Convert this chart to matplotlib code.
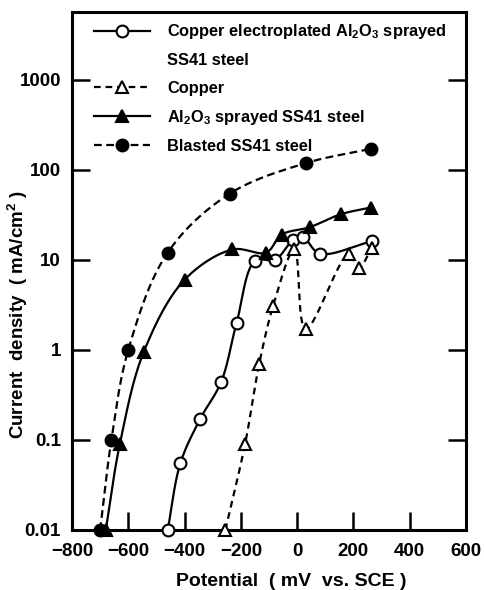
import numpy as np
import matplotlib
matplotlib.use("Agg")
import matplotlib.pyplot as plt
from matplotlib.lines import Line2D

plt.rcParams['font.family'] = ['Liberation Sans', 'DejaVu Sans']
plt.rcParams['font.weight'] = 'bold'
plt.rcParams['axes.labelweight'] = 'bold'
plt.rcParams['mathtext.fontset'] = 'custom'
plt.rcParams['mathtext.rm'] = 'Liberation Sans:bold'
plt.rcParams['mathtext.default'] = 'rm'

# ---- data (potential mV vs SCE, current density mA/cm2) ----
cu_al_x = [-460, -415, -345, -270, -215, -150, -78, -15, 20, 80, 265]
cu_al_y = [0.01, 0.055, 0.17, 0.44, 2.0, 9.7, 10.0, 16.5, 18.0, 11.7, 16.0]

cu_x = [-255, -185, -135, -85, -10, 30, 183, 220, 265]
cu_y = [0.01, 0.09, 0.69, 3.1, 13.0, 1.7, 11.5, 8.2, 13.5]

al_x = [-680, -630, -545, -400, -230, -110, -55, 45, 155, 262]
al_y = [0.01, 0.09, 0.95, 6.0, 13.0, 12.0, 19.0, 23.0, 32.0, 38.0]

bl_x = [-700, -660, -600, -460, -240, 30, 262]
bl_y = [0.01, 0.1, 1.0, 12.0, 54.0, 118.0, 170.0]

labels = ["Copper electroplated Al$_2$O$_3$ sprayed", "SS41 steel", "Copper",
          "Al$_2$O$_3$ sprayed SS41 steel", "Blasted SS41 steel"]
xticks = [-800, -600, -400, -200, 0, 200, 400, 600]
xtick_labels = ["\u2212800", "\u2212600", "\u2212400", "\u2212200", "0", "200", "400", "600"]
yticks = [0.01, 0.1, 1, 10, 100, 1000]
ytick_labels = ["0.01", "0.1", "1", "10", "100", "1000"]

XLIM = (-800, 600)
YLIM = (0.01, 10 ** 3.75)


def smooth(x, y, n=30):
    """Centripetal Catmull-Rom curve through the points in (x, log y) space."""
    xs = (np.asarray(x, float) - XLIM[0]) / (XLIM[1] - XLIM[0]) * 394
    ys = np.log10(np.asarray(y, float)) / np.log10(YLIM[1] / YLIM[0]) * 518
    P = np.column_stack([xs, ys])
    P = np.vstack([2 * P[0] - P[1], P, 2 * P[-1] - P[-2]])
    out = []
    for i in range(1, len(P) - 2):
        p0, p1, p2, p3 = P[i - 1], P[i], P[i + 1], P[i + 2]
        t0 = 0.0
        t1 = t0 + np.linalg.norm(p1 - p0) ** 0.5 + 1e-9
        t2 = t1 + np.linalg.norm(p2 - p1) ** 0.5 + 1e-9
        t3 = t2 + np.linalg.norm(p3 - p2) ** 0.5 + 1e-9
        t = np.linspace(t1, t2, n)[:, None]
        a1 = (t1 - t) / (t1 - t0) * p0 + (t - t0) / (t1 - t0) * p1
        a2 = (t2 - t) / (t2 - t1) * p1 + (t - t1) / (t2 - t1) * p2
        a3 = (t3 - t) / (t3 - t2) * p2 + (t - t2) / (t3 - t2) * p3
        b1 = (t2 - t) / (t2 - t0) * a1 + (t - t0) / (t2 - t0) * a2
        b2 = (t3 - t) / (t3 - t1) * a2 + (t - t1) / (t3 - t1) * a3
        c = (t2 - t) / (t2 - t1) * b1 + (t - t1) / (t2 - t1) * b2
        out.append(c if i == 1 else c[1:])
    C = np.vstack(out)
    cx = C[:, 0] / 394 * (XLIM[1] - XLIM[0]) + XLIM[0]
    cy = 10 ** (C[:, 1] / 518 * np.log10(YLIM[1] / YLIM[0]))
    return cx, cy


fig = plt.figure(figsize=(4.84, 5.90), dpi=100)
ax = fig.add_axes([72 / 484, 1 - 530 / 590, 394 / 484, 518 / 590])
ax.set_yscale('log')
ax.set_xlim(*XLIM)
ax.set_ylim(*YLIM)

lw = 1.6
ms = 8.5
mew = 1.5

series = [
    (cu_al_x, cu_al_y, '-', 'o', 'white', None),
    (cu_x, cu_y, '--', '^', 'white', (3.0, 2.2)),
    (al_x, al_y, '-', '^', 'black', None),
    (bl_x, bl_y, '--', 'o', 'black', (3.5, 2.0)),
]
handles = []
for x, y, ls, mk, fc, dash in series:
    sx, sy = smooth(x, y)
    line, = ax.plot(sx, sy, color='black', lw=lw, ls=ls, zorder=2, clip_on=False)
    if dash is not None:
        line.set_dashes(dash)
    ax.plot(x, y, ls='none', marker=mk, ms=ms, mfc=fc, mec='black', mew=mew,
            zorder=3, clip_on=False)
    h = Line2D([], [], color='black', lw=lw, ls=ls, marker=mk, ms=ms, mfc=fc,
               mec='black', mew=mew)
    if dash is not None:
        h.set_dashes(dash)
    handles.append(h)

blank = Line2D([], [], color='none')
leg = ax.legend([handles[0], blank, handles[1], handles[2], handles[3]], labels,
                loc='upper left', bbox_to_anchor=(0.057, 0.98), frameon=False,
                borderaxespad=0, borderpad=0, handlelength=3.4, handletextpad=1.05,
                labelspacing=0.74, fontsize=11.8)

for s in ax.spines.values():
    s.set_linewidth(2.2)

ax.set_xticks(xticks)
ax.set_xticklabels(xtick_labels)
ax.set_yticks(yticks)
ax.set_yticklabels(ytick_labels)
ax.yaxis.set_minor_locator(matplotlib.ticker.NullLocator())
ax.tick_params(axis='both', which='major', direction='in', length=13, width=1.8,
               labelsize=13.5)
ax.tick_params(axis='x', pad=9)
ax.tick_params(axis='y', pad=8, right=True, left=True)
ax.tick_params(axis='x', top=False)

ax.set_xlabel("Potential  ( mV  vs. SCE )", fontsize=14, fontweight='bold')
ax.xaxis.set_label_coords(0.556, -0.083)
ax.set_ylabel("Current  density  ( mA/cm$^2$ )", fontsize=13.5, fontweight='bold')
ax.yaxis.set_label_coords(-0.107, 0.415)

fig.savefig("out.png", dpi=100)
